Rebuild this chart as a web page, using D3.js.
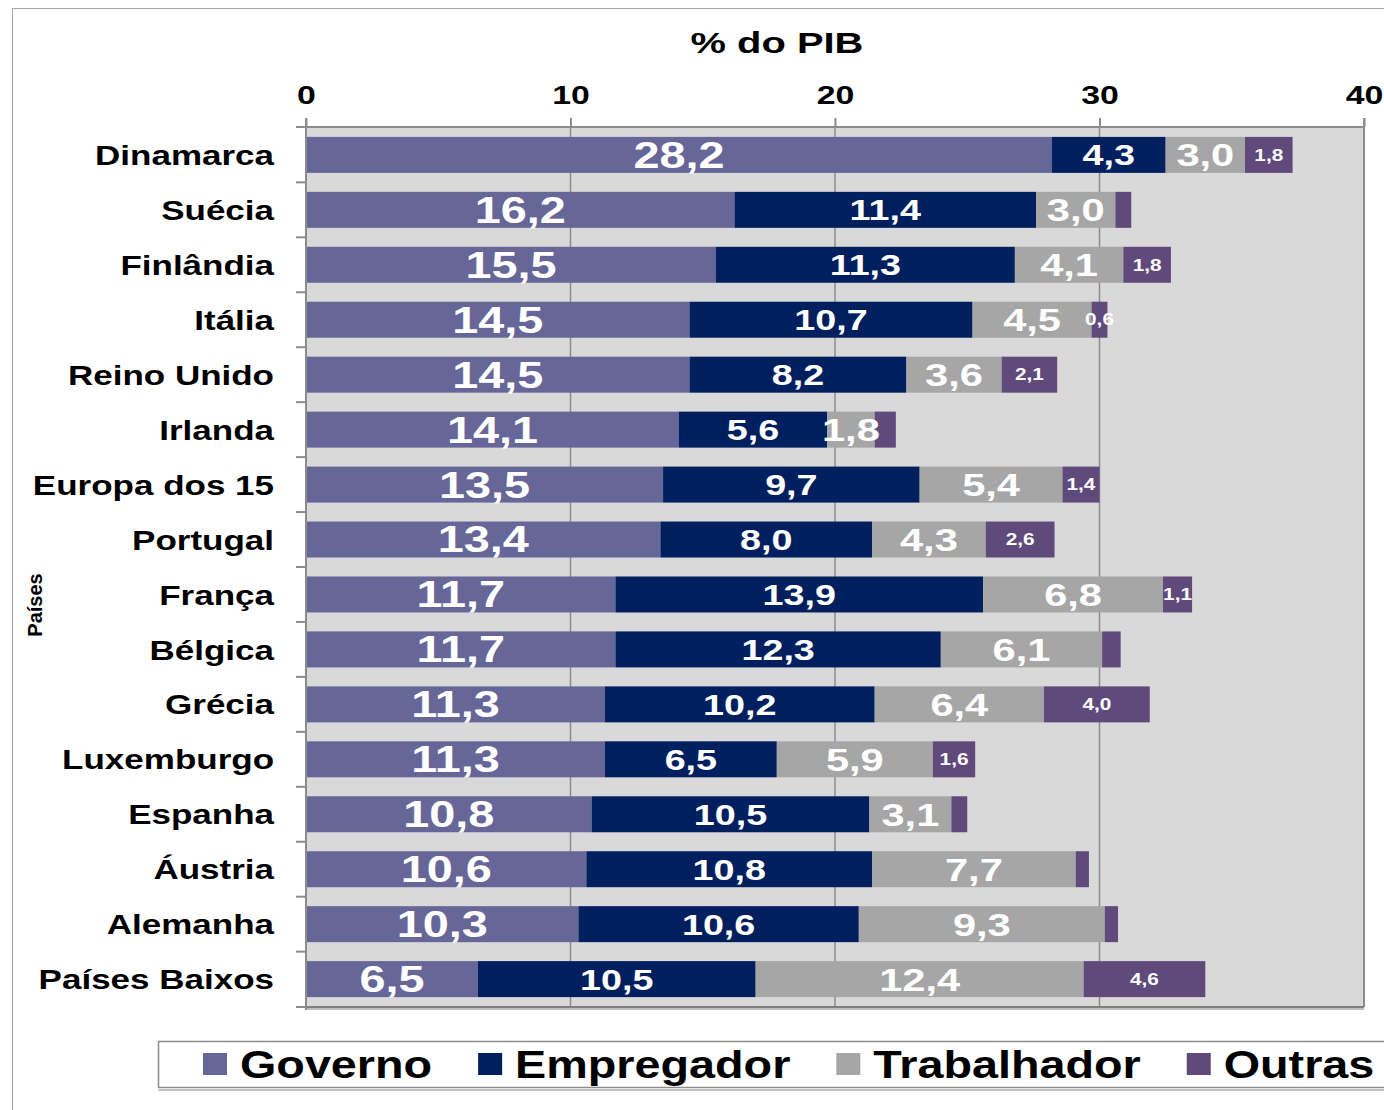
<!DOCTYPE html>
<html>
<head>
<meta charset="utf-8">
<script src="https://cdn.jsdelivr.net/npm/d3@7"></script>
<style>
  body { margin: 0; background: #fff; }
  svg text { font-family: "Liberation Sans", Arial, sans-serif; font-weight: bold; }
</style>
</head>
<body>
<svg width="1384" height="1110"></svg>
<script>
// dados (% do PIB)
var paises = ["Dinamarca", "Suécia", "Finlândia", "Itália", "Reino Unido", "Irlanda",
  "Europa dos 15", "Portugal", "França", "Bélgica", "Grécia", "Luxemburgo",
  "Espanha", "Áustria", "Alemanha", "Países Baixos"];
var governo     = [28.2, 16.2, 15.5, 14.5, 14.5, 14.1, 13.5, 13.4, 11.7, 11.7, 11.3, 11.3, 10.8, 10.6, 10.3, 6.5];
var empregador  = [4.3, 11.4, 11.3, 10.7, 8.2, 5.6, 9.7, 8.0, 13.9, 12.3, 10.2, 6.5, 10.5, 10.8, 10.6, 10.5];
var trabalhador = [3.0, 3.0, 4.1, 4.5, 3.6, 1.8, 5.4, 4.3, 6.8, 6.1, 6.4, 5.9, 3.1, 7.7, 9.3, 12.4];
var outras      = [1.8, 0.6, 1.8, 0.6, 2.1, 0.8, 1.4, 2.6, 1.1, 0.7, 4.0, 1.6, 0.6, 0.5, 0.5, 4.6];
// rótulos de "Outras" que aparecem no gráfico
var outrasRotulo = [true, false, true, true, true, false, true, true, true, false, true, true, false, false, false, true];
var series = ["Governo", "Empregador", "Trabalhador", "Outras"];
var xTicks = [0, 10, 20, 30, 40];

var cores = ["#666699", "#001f5f", "#a6a6a6", "#604a7b"];
var tamRotulo = [36, 29, 32, 16];
var SX = 1.3; // texto esticado na horizontal

var svg = d3.select("svg");
var margin = {top: 127, left: 306, right: 20, bottom: 103};
var W = 1364 - margin.left, H = 1007 - margin.top;

// moldura externa
svg.append("rect").attr("x", 12.5).attr("y", 8.5).attr("width", 1400).attr("height", 1200)
  .attr("fill", "none").attr("stroke", "#a6a6a6");

var g = svg.append("g").attr("transform", "translate(" + margin.left + "," + margin.top + ")");

var x = d3.scaleLinear().domain([0, 40]).range([0, W]);
var y = d3.scaleBand().domain(paises).range([0, H]).paddingInner(0.345).paddingOuter(0.18);

var dados = paises.map(function(p, i) {
  return {pais: p, vals: [governo[i], empregador[i], trabalhador[i], outras[i]], i: i};
});
var stack = d3.stack().keys([0, 1, 2, 3]).value(function(d, k) { return d.vals[k]; });
var camadas = stack(dados);

// fundo
g.append("rect").attr("width", W).attr("height", H).attr("fill", "#d9d9d9");

// grade
g.selectAll(".grid").data(xTicks.slice(1, -1)).enter().append("line")
  .attr("x1", function(d) { return x(d); }).attr("x2", function(d) { return x(d); })
  .attr("y1", 0).attr("y2", H).attr("stroke", "#8c8c8c").attr("stroke-width", 1.5);

// moldura da área do gráfico
g.append("line").attr("x1", 0).attr("x2", W).attr("y1", 0).attr("y2", 0).attr("stroke", "#8c8c8c").attr("stroke-width", 2);
g.append("line").attr("x1", W).attr("x2", W).attr("y1", -9).attr("y2", H).attr("stroke", "#8c8c8c").attr("stroke-width", 2);
g.append("line").attr("x1", 0).attr("x2", W).attr("y1", H + 2).attr("y2", H + 2).attr("stroke", "#bfbfbf").attr("stroke-width", 2);
g.append("line").attr("x1", 0).attr("x2", W).attr("y1", H).attr("y2", H).attr("stroke", "#7f7f7f").attr("stroke-width", 2);

// barras
var grupos = g.selectAll(".serie").data(camadas).enter().append("g")
  .attr("fill", function(d) { return cores[d.key]; });
grupos.selectAll("rect").data(function(d) { return d; }).enter().append("rect")
  .attr("x", function(d) { return x(d[0]); })
  .attr("y", function(d) { return y(d.data.pais); })
  .attr("width", function(d) { return x(d[1]) - x(d[0]); })
  .attr("height", y.bandwidth());

// rótulos das barras
function fmt(v) { return v.toFixed(1).replace(".", ","); }
camadas.forEach(function(c) {
  c.forEach(function(d) {
    var k = c.key, i = d.data.i;
    if (k === 3 && !outrasRotulo[i]) return;
    var cx = (x(d[0]) + x(d[1])) / 2, cy = y(d.data.pais) + y.bandwidth() / 2;
    g.append("text")
      .attr("transform", "translate(" + cx + "," + cy + ") scale(" + SX + ",1)")
      .attr("text-anchor", "middle").attr("dy", "0.36em")
      .attr("font-size", tamRotulo[k]).attr("fill", "#fff")
      .text(fmt(d.data.vals[k]));
  });
});

// eixo x (topo)
var ax = g.append("g").call(d3.axisTop(x).tickValues(xTicks).tickSize(9).tickPadding(14).tickFormat(d3.format("d")));
ax.select(".domain").remove();
ax.selectAll("line").attr("stroke", "#8c8c8c").attr("stroke-width", 2);
ax.selectAll("text").attr("font-size", 26).attr("fill", "#000").attr("transform", "scale(" + SX + ",1)");

// eixo y
var ay = g.append("g").call(d3.axisLeft(y).tickSize(0).tickPadding(32 / 1.25));
ay.select(".domain").remove();
ay.selectAll("text").attr("font-size", 28).attr("fill", "#000").attr("dy", "0.36em")
  .attr("transform", "scale(1.25,1)");
var limites = paises.map(function(p) { return y(p) - y.step() * y.paddingInner() / 2; });
limites[0] = 0;
limites.push(H);
g.selectAll(".ytick").data(limites).enter().append("line")
  .attr("x1", -10).attr("x2", 0).attr("y1", function(d) { return d; }).attr("y2", function(d) { return d; })
  .attr("stroke", "#8c8c8c").attr("stroke-width", 2);
g.append("line").attr("x1", 0).attr("x2", 0).attr("y1", -9).attr("y2", H + 3).attr("stroke", "#8c8c8c").attr("stroke-width", 2);

// títulos
svg.append("text").attr("transform", "translate(777,53) scale(1.33,1)").attr("text-anchor", "middle")
  .attr("font-size", 30).text("% do PIB");
svg.append("text").attr("transform", "translate(42,605) rotate(-90)").attr("text-anchor", "middle")
  .attr("font-size", 20).text("Países");

// legenda
var leg = svg.append("g");
leg.append("rect").attr("x", 158.5).attr("y", 1089).attr("width", 1300).attr("height", 2).attr("fill", "#bfbfbf");
leg.append("rect").attr("x", 158.5).attr("y", 1041.5).attr("width", 1300).attr("height", 46)
  .attr("fill", "#fff").attr("stroke", "#8c8c8c").attr("stroke-width", 1.5);
var lx = 203, LSX = 1.23;
series.forEach(function(s, k) {
  leg.append("rect").attr("x", lx).attr("y", 1053).attr("width", 24).attr("height", 22).attr("fill", cores[k]);
  var t = leg.append("text").attr("transform", "translate(" + (lx + 37) + ",1078) scale(" + LSX + ",1)")
    .attr("font-size", 38).attr("fill", "#000").text(s);
  lx = lx + 37 + t.node().getComputedTextLength() * LSX + 46;
});
</script>
</body>
</html>
